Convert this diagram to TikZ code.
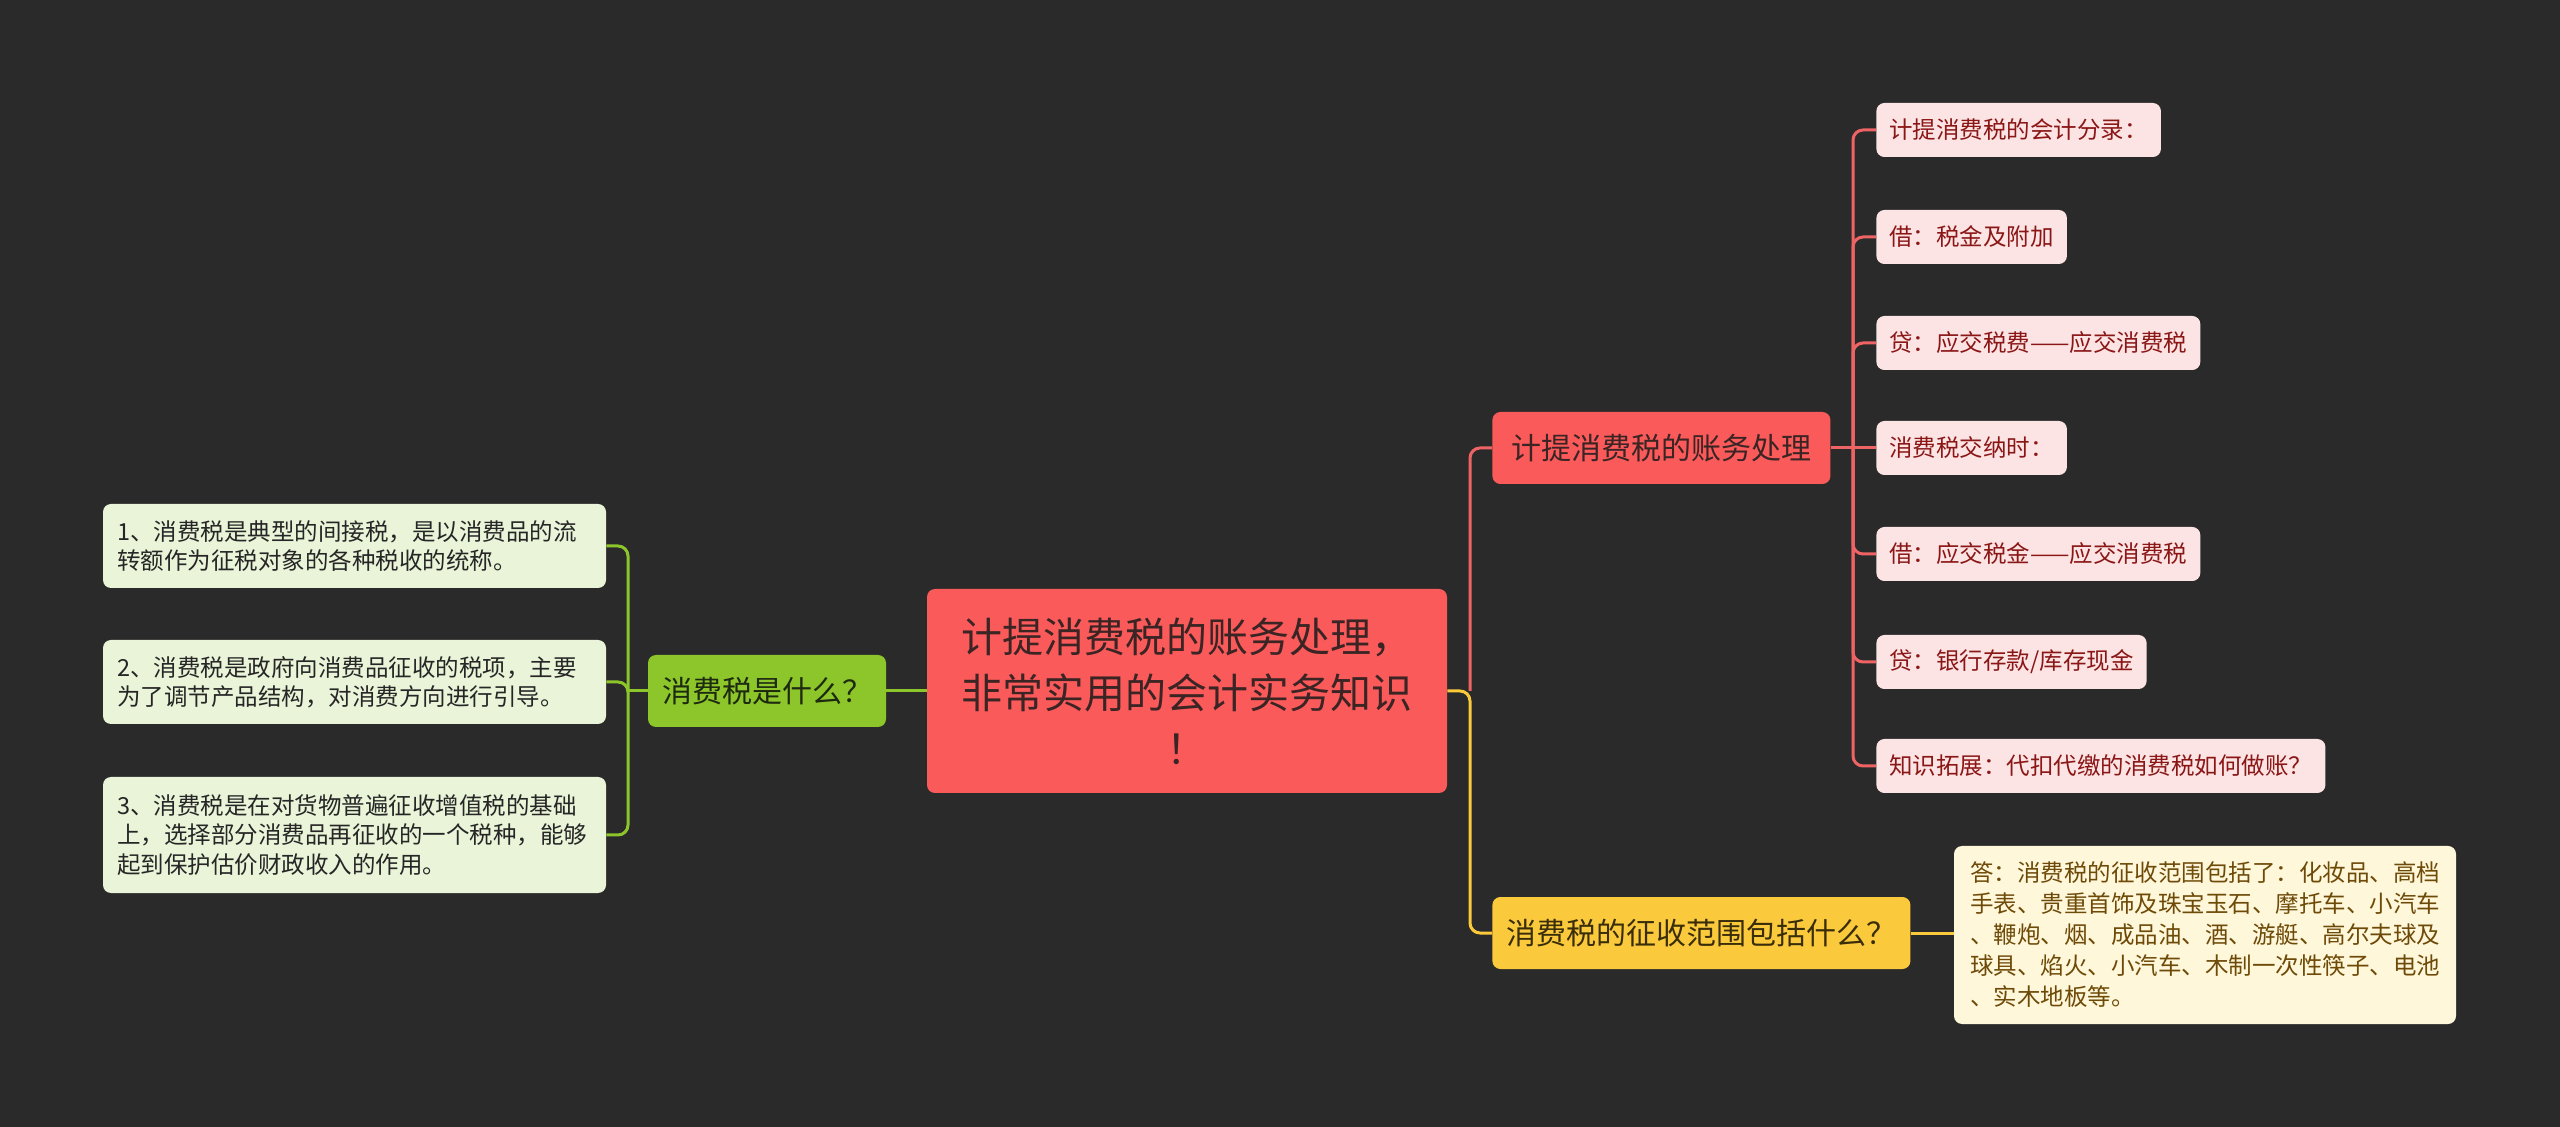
\documentclass[tikz,border=0pt]{standalone}
\usepackage{fontspec}
\setmainfont{Noto Sans CJK SC}
\usepackage{tikz}
\usetikzlibrary{positioning}
\definecolor{bgc}{HTML}{2A2A2A}
\definecolor{rootc}{HTML}{FA5A5A}
\definecolor{roott}{HTML}{3A2424}
\definecolor{redl}{HTML}{EE6464}
\definecolor{pinkc}{HTML}{FCE4E4}
\definecolor{pinkt}{HTML}{8B1616}
\definecolor{yelc}{HTML}{FBC93C}
\definecolor{yelt}{HTML}{3A2E0A}
\definecolor{creamc}{HTML}{FFF7DA}
\definecolor{creamt}{HTML}{6E4A08}
\definecolor{grnc}{HTML}{8CC62B}
\definecolor{grnt}{HTML}{1E2A10}
\definecolor{palec}{HTML}{E9F4D8}
\definecolor{palet}{HTML}{262626}

\begin{document}
\begin{tikzpicture}[x=0.5pt,y=-0.5pt,
  box/.style={rounded corners=4pt,inner sep=0pt},
  root/.style={box,fill=rootc,text=roott,align=center,minimum width=260pt,minimum height=102pt,font=\fontsize{20.5}{28}\selectfont},
  topic/.style={box,minimum height=36pt,inner xsep=7pt,font=\fontsize{15}{18}\selectfont},
  leaf/.style={box,fill=pinkc,text=pinkt,minimum height=27pt,inner xsep=6.5pt,anchor=west,font=\fontsize{11.75}{14}\selectfont},
  note/.style={box,fill=palec,text=palet,align=left,text width=237.5pt,inner xsep=7pt,inner ysep=6pt,font=\fontsize{11.75}{14.7}\selectfont},
  rline/.style={draw=redl,line width=1.5pt,rounded corners=5pt},
  yline/.style={draw=yelc,line width=1.5pt,rounded corners=5pt},
  gline/.style={draw=grnc,line width=1.5pt,rounded corners=5pt}]
  \fill[bgc] (0,0) rectangle (2560,1127);
  \useasboundingbox (0,0) rectangle (2560,1127);

  \node[root] (root) at (1187,691) {计提消费税的账务处理，\\非常实用的会计实务知识\\！};

  \node[topic,fill=rootc,text=roott,minimum width=169pt,anchor=west] (proc) at (1492,448) {计提消费税的账务处理};
  \node[topic,fill=yelc,text=yelt,minimum width=208.5pt,anchor=west] (ask) at (1492,933) {消费税的征收范围包括什么？};
  \node[topic,fill=grnc,text=grnt,minimum width=115.5pt] (what) at (767,691) {消费税是什么？};

  \node[leaf] (r1) at (1876,130) {计提消费税的会计分录：};
  \node[leaf] (r2) at (1876,237) {借：税金及附加};
  \node[leaf] (r3) at (1876,343) {贷：应交税费——应交消费税};
  \node[leaf] (r4) at (1876,448) {消费税交纳时：};
  \node[leaf] (r5) at (1876,554) {借：应交税金——应交消费税};
  \node[leaf] (r6) at (1876,662) {贷：银行存款/库存现金};
  \node[leaf] (r7) at (1876,766) {知识拓展：代扣代缴的消费税如何做账？};

  \node[box,fill=creamc,text=creamt,align=left,text width=235pt,inner xsep=8pt,minimum height=89pt,font=\fontsize{11.75}{15.5}\selectfont] (ans) at (2205,935)
    {答：消费税的征收范围包括了：化妆品、高档\\手表、贵重首饰及珠宝玉石、摩托车、小汽车\\、鞭炮、烟、成品油、酒、游艇、高尔夫球及\\球具、焰火、小汽车、木制一次性筷子、电池\\、实木地板等。};

  \node[note,minimum height=42pt] (l1) at (354.5,546) {1、消费税是典型的间接税，是以消费品的流\\转额作为征税对象的各种税收的统称。};
  \node[note,minimum height=42pt] (l2) at (354.5,682) {2、消费税是政府向消费品征收的税项，主要\\为了调节产品结构，对消费方向进行引导。};
  \node[note,minimum height=58pt] (l3) at (354.5,835) {3、消费税是在对货物普遍征收增值税的基础\\上，选择部分消费品再征收的一个税种，能够\\起到保护估价财政收入的作用。};

  \coordinate (cj) at (1470,691);
  \coordinate (pj) at (1853,448);
  \coordinate (gj) at (628,691);

  \draw[yline] (root.east) -- (cj) |- (ask.west);
  \draw[rline] (cj) |- (proc.west);
  \draw[yline] (ask.east) -- (ans.west |- ask.east);
  \draw[gline] (root.west) -- (what.east);
  \draw[gline] (what.west) -- (gj);
  \foreach \n in {l1,l2,l3} \draw[gline] (gj) |- (\n.east);
  \draw[rline] (proc.east) -- (r4.west);
  \foreach \n in {r1,r2,r3,r5,r6,r7} \draw[rline] (pj) |- (\n.west);
\end{tikzpicture}
\end{document}
